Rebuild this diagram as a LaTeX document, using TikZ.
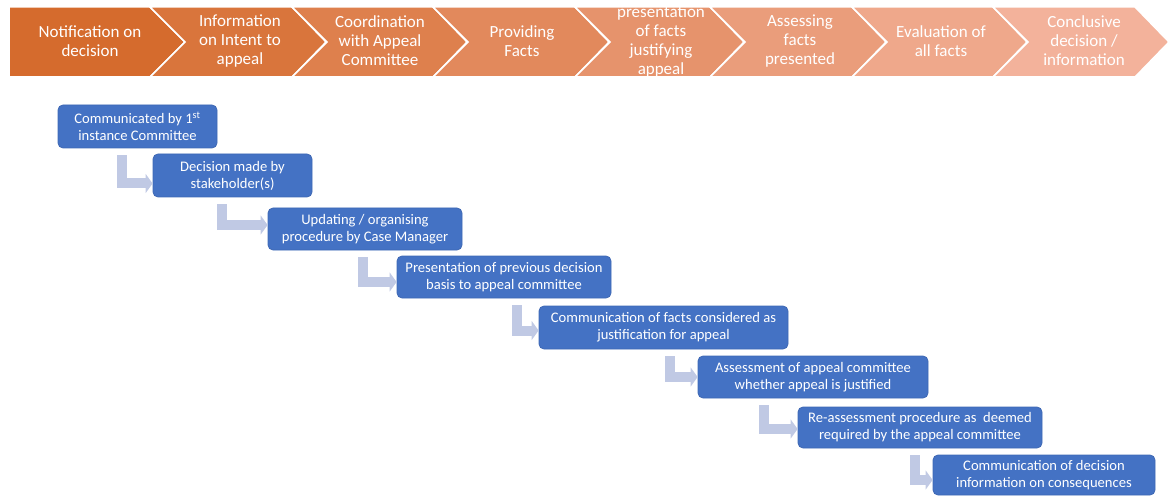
\documentclass[tikz,border=0pt]{standalone}
\usepackage{fontspec}
\setmainfont{Carlito}
\usetikzlibrary{arrows.meta,calc}

\definecolor{chevA}{RGB}{213,107,45}
\definecolor{chevB}{RGB}{243,178,155}
\definecolor{boxblue}{RGB}{68,114,196}
\definecolor{boxedge}{RGB}{62,104,180}
\definecolor{linkblue}{RGB}{192,201,228}

\tikzset{
  chevtext/.style={text=white, align=center, inner sep=0pt,
    font=\fontsize{17}{19}\selectfont},
  stage/.style={draw=white, line width=1.5pt, line join=miter},
  blk/.style={fill=boxblue, draw=boxedge, line width=0.8pt, rounded corners=5pt,
    text=white, align=center, inner sep=0pt,
    font=\fontsize{14.6}{17}\selectfont},
  link/.style={draw=linkblue, line width=10pt, line join=miter,
    -{Triangle[length=7pt,width=19pt]}},
}

\begin{document}
\begin{tikzpicture}[x=1pt,y=-1pt]
\useasboundingbox (0,0) rectangle (1175,497);

% ---- chevron process row ----
\fill[chevA, stage] (9,7) -- (150,7) -- (185,42) -- (150,77) -- (9,77) -- cycle;
\foreach \L/\R/\p in {150/292/86, 292/433/71, 433/575/57, 575/710/43,
                       710/852/29, 852/993/14, 993/1135/0}{
  \fill[chevA!\p!chevB, stage] (\L,7) -- (\R,7) -- (\R+34,42) -- (\R,77)
        -- (\L,77) -- (\L+35,42) -- cycle;
}

\node[chevtext] (s1) at (90,41)   {Notification on\\decision};
\node[chevtext] (s2) at (240,41)  {Information\\on Intent to\\appeal};
\node[chevtext] (s3) at (380,41)  {Coordination\\with Appeal\\Committee};
\node[chevtext] (s4) at (522,41)  {Providing\\Facts};
\node[chevtext] (s5) at (661,41)  {presentation\\of facts\\justifying\\appeal};
\node[chevtext] (s6) at (800,41)  {Assessing\\facts\\presented};
\node[chevtext] (s7) at (941,41)  {Evaluation of\\all facts};
\node[chevtext] (s8) at (1084,41) {Conclusive\\decision /\\information};

% ---- staircase of steps ----
\node[blk, minimum width=159pt, minimum height=43pt] (b1) at (137.5,126.5)
  {Communicated by 1\textsuperscript{st}\\instance Committee};
\node[blk, minimum width=159pt, minimum height=43pt] (b2) at (232.5,175.5)
  {Decision made by\\stakeholder(s)};
\node[blk, minimum width=194pt, minimum height=42pt] (b3) at (365,229)
  {Updating / organising\\procedure by Case Manager};
\node[blk, minimum width=214pt, minimum height=42pt] (b4) at (504,277)
  {Presentation of previous decision\\basis to appeal committee};
\node[blk, minimum width=249pt, minimum height=43pt] (b5) at (663.5,327.5)
  {Communication of facts considered as\\justification for appeal};
\node[blk, minimum width=230pt, minimum height=42pt] (b6) at (813,377)
  {Assessment of appeal committee\\whether appeal is justified};
\node[blk, minimum width=244pt, minimum height=41pt] (b7) at (920,427.5)
  {Re-assessment procedure as~ deemed\\required by the appeal committee};
\node[blk, minimum width=222pt, minimum height=40pt] (b8) at (1044,475)
  {Communication of decision\\information on consequences};

% ---- bent arrows between steps ----
\draw[link] ($(b1.south west)+(64,7)$)  |- ($(b2.west)+(0,8)$);
\draw[link] ($(b2.south west)+(69,7)$)  |- ($(b3.west)+(0,-4)$);
\draw[link] ($(b3.south west)+(95,7)$)  |- ($(b4.west)+(0,5)$);
\draw[link] ($(b4.south west)+(120,7)$) |- ($(b5.west)+(0,3)$);
\draw[link] ($(b5.south west)+(131,7)$) |- ($(b6.west)+(0,0)$);
\draw[link] ($(b6.south west)+(66,7)$)  |- ($(b7.west)+(0,1.5)$);
\draw[link] ($(b7.south west)+(117,7)$) |- ($(b8.west)+(0,5)$);
\end{tikzpicture}
\end{document}
